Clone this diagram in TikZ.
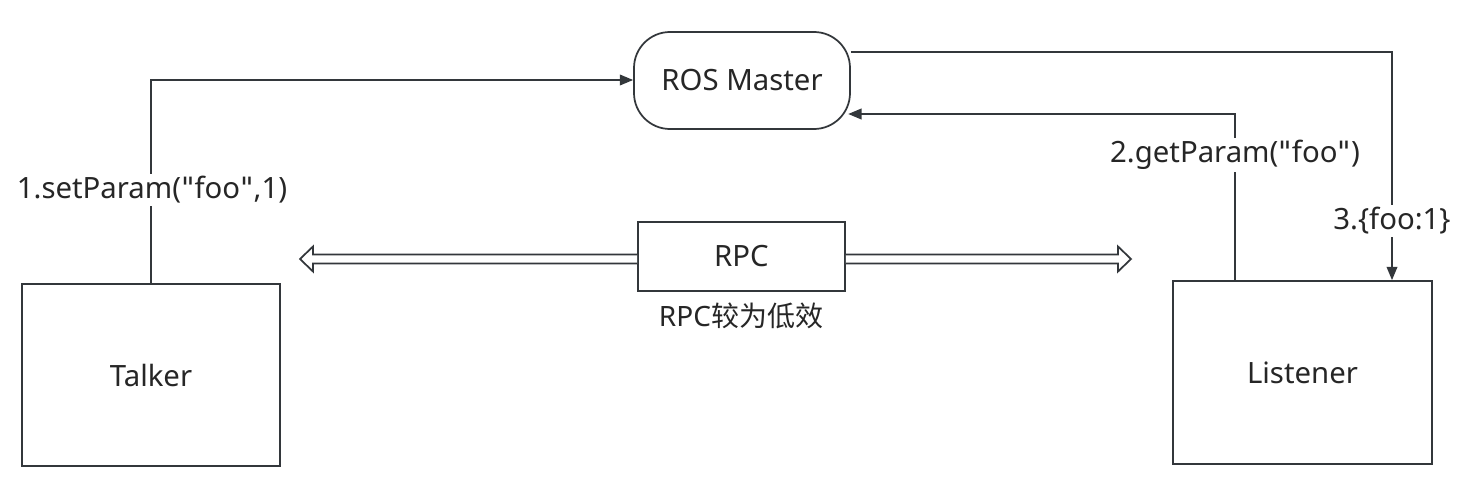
\documentclass[tikz,border=0pt]{standalone}
\usepackage{fontspec}
\setmainfont{Noto Sans}[Ligatures=ResetAll]
\newfontfamily\cjk{Noto Sans CJK SC}
\newfontfamily\dv{DejaVu Sans}
\usetikzlibrary{arrows.meta}
\definecolor{ln}{HTML}{33373B}
\definecolor{tx}{HTML}{262626}
\newcommand{\dq}{{\dv\char34}}
\tikzset{
  box/.style={draw=ln, line width=1.3pt, fill=white, inner sep=0pt, text=tx, font=\fontsize{22}{26}\selectfont},
  conn/.style={draw=ln, line width=1.3pt, -{Triangle[length=10pt,width=8pt]}},
  lbl/.style={fill=white, inner sep=2pt, text=tx, font=\fontsize{22}{26}\selectfont},
  dbl/.style={draw=ln, line width=1.3pt, fill=white, line join=miter}
}
\begin{document}
\begin{tikzpicture}[x=0.75pt, y=-0.75pt]
\useasboundingbox (0,0) rectangle (1461,496);
% nodes
\node[box, rounded corners=27pt, minimum width=162pt, minimum height=72.75pt] (ros) at (742,80.5) {ROS Master};
\node[box, minimum width=193.5pt, minimum height=136.5pt] (talker) at (151,375) {Talker};
\node[box, minimum width=194.25pt, minimum height=137.25pt] (listener) at (1302.5,372.5) {Listener};
\node[box, minimum width=155.25pt, minimum height=51.75pt] (rpc) at (741.5,256.5) {RPC};
\node[lbl, inner sep=0pt, font=\fontsize{21}{25}\selectfont] (rpclbl) at (741,316) {RPC{\cjk 较为低效}};
% coordinates
\coordinate (c1) at (151,80);
\coordinate (c2) at (1235,114);
\coordinate (c3) at (1392,52);
\coordinate (ya) at (0,254.5);
\coordinate (yb) at (0,263.5);
% connectors
\draw[conn] (talker.north -| c1) -- (c1) -- (c1 -| ros.west);
\draw[conn] (listener.north -| c2) -- (c2) -- ([xshift=-2pt]c2 -| ros.east);
\draw[conn] (c3 -| ros.east) -- (c3) -- (c3 |- listener.north);
% labels
\node[lbl] (l1) at (152,190) {1.setParam(\dq foo\dq,1)};
\node[lbl] (l2) at (1235,155) {2.getParam(\dq foo\dq)};
\node[lbl] (l3) at (1392,221) {3.\{foo:1\}};
% double arrows
\draw[dbl] (rpc.west |- ya) -- (313,254.5) -- (313,246.5) -- (300,259) -- (313,271.5) -- (313,263.5) -- (rpc.west |- yb);
\draw[dbl] (rpc.east |- ya) -- (1118,254.5) -- (1118,246.5) -- (1131,259) -- (1118,271.5) -- (1118,263.5) -- (rpc.east |- yb);
\end{tikzpicture}
\end{document}
